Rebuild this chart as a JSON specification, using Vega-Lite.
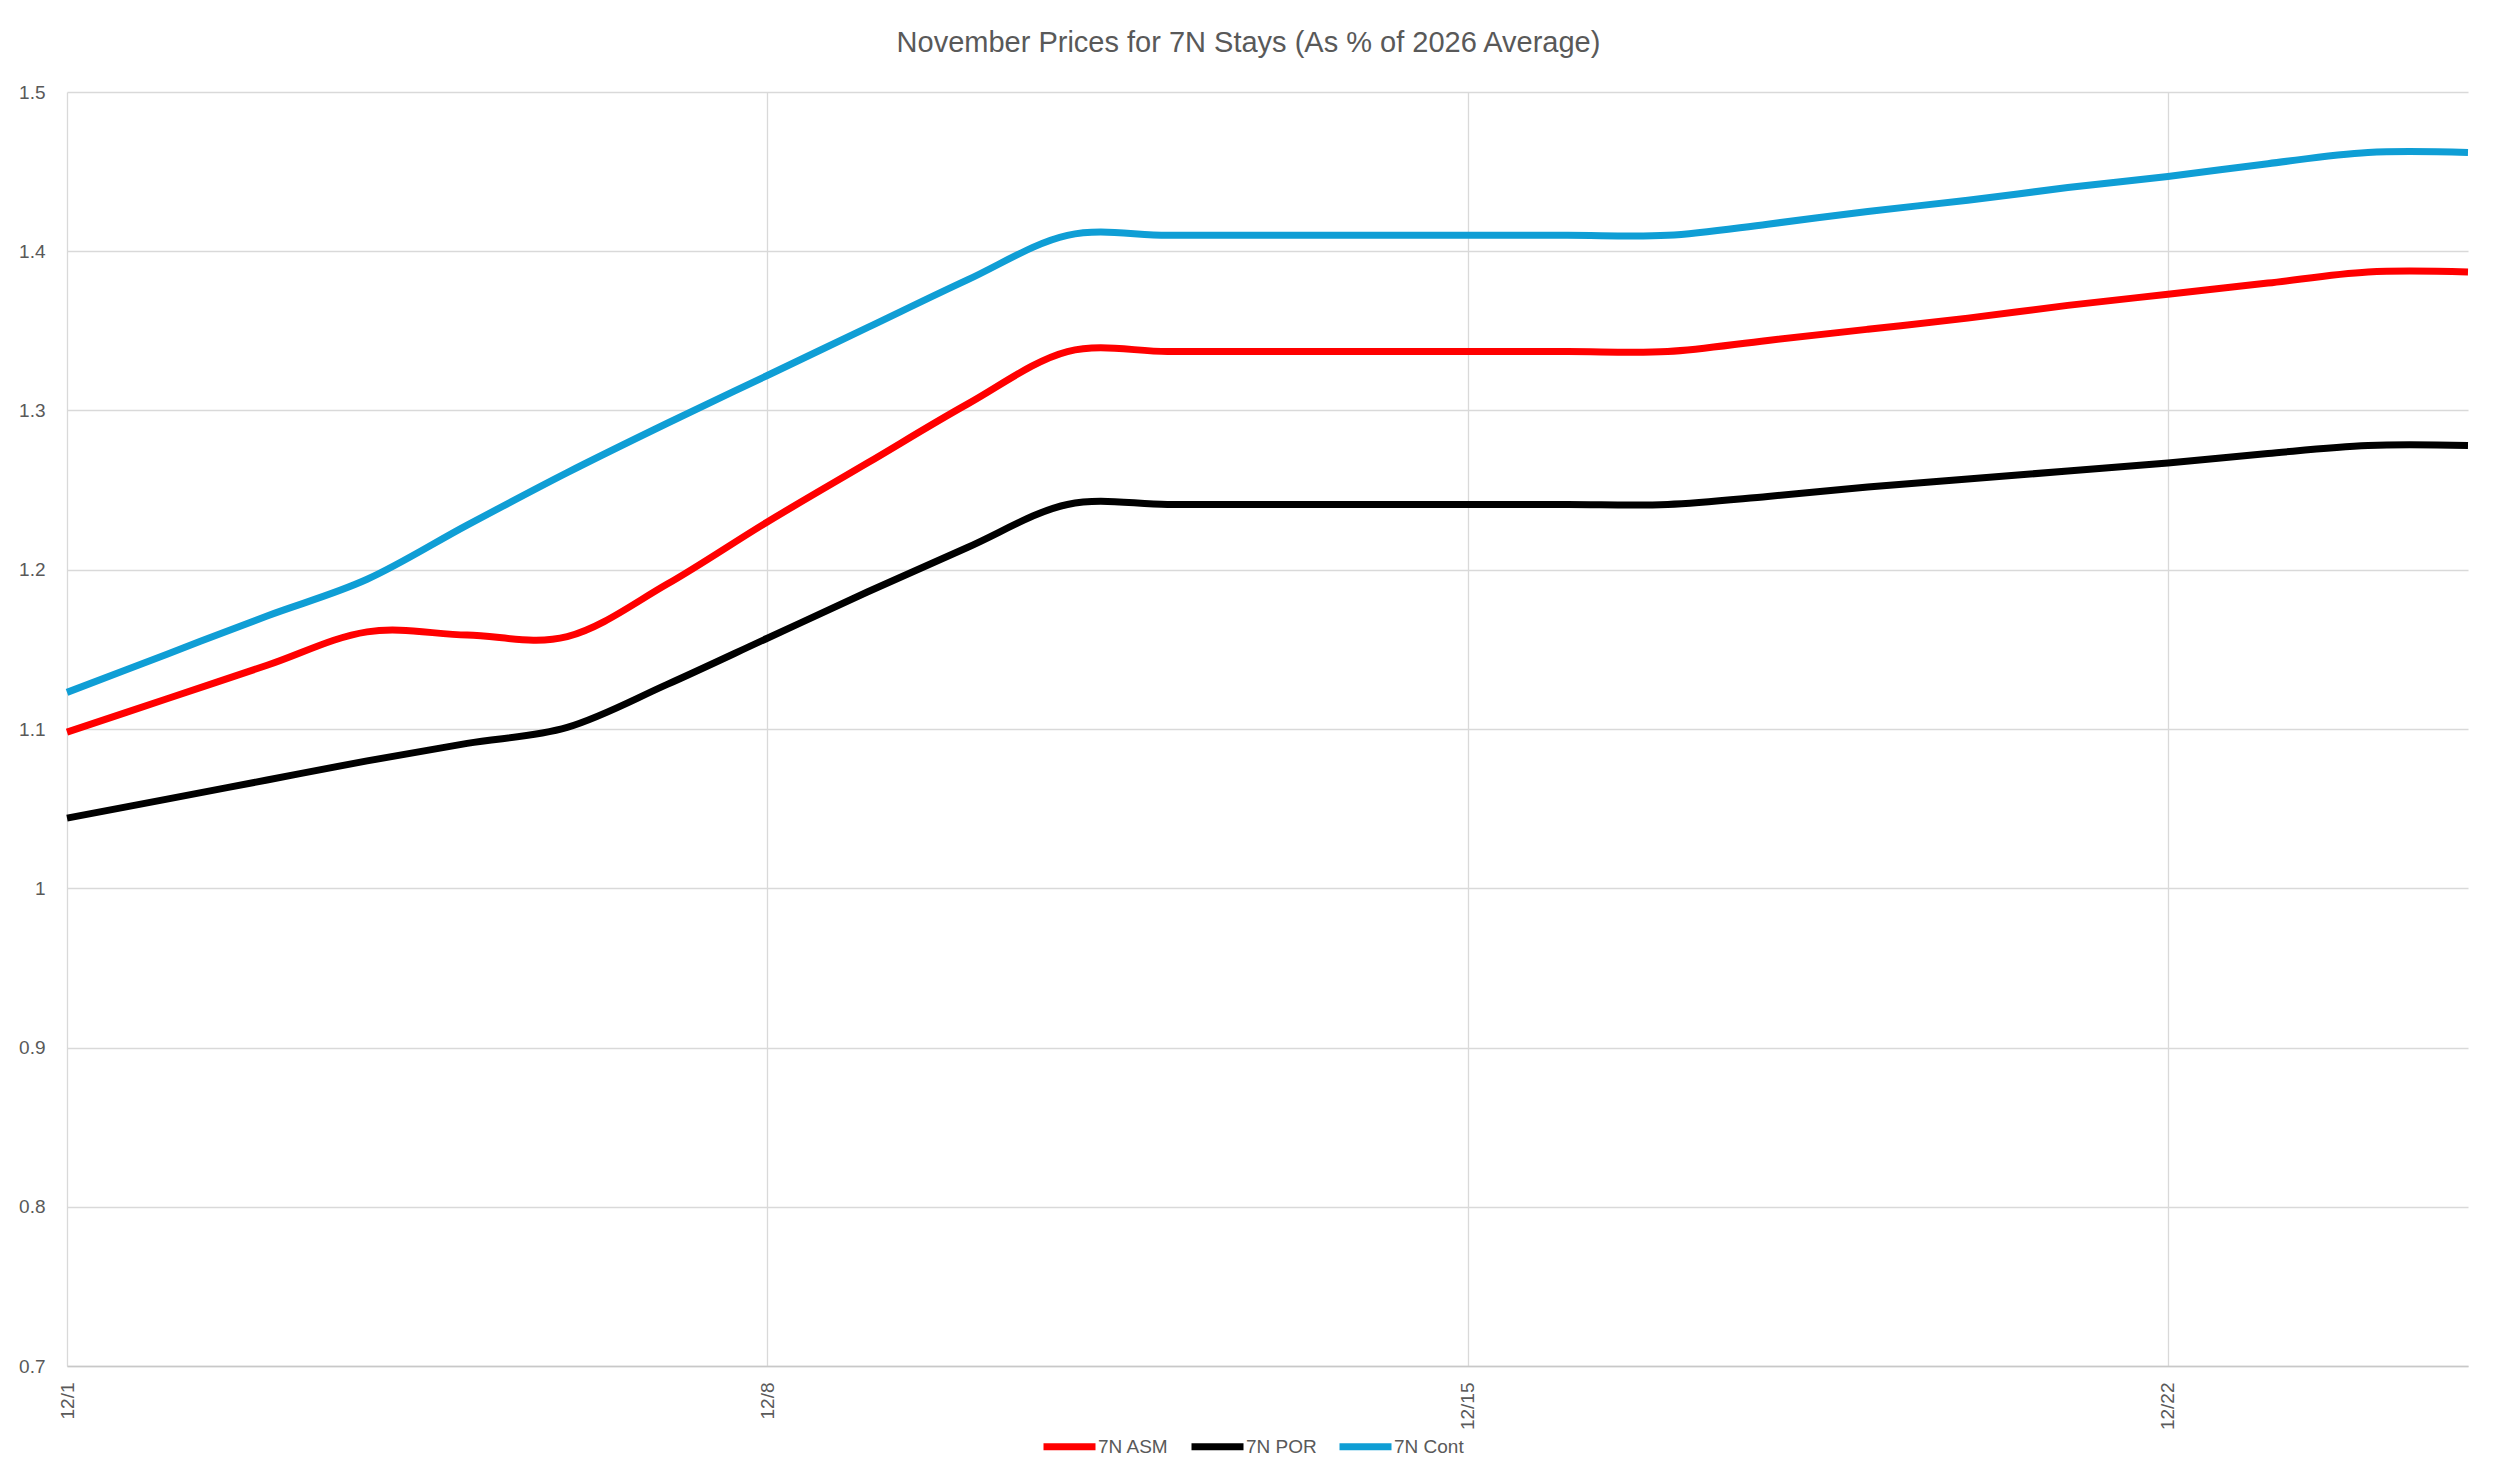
{
  "$schema": "https://vega.github.io/schema/vega-lite/v6.json",
  "autosize": {"type": "none"},
  "padding": {"left": 67, "top": 92, "right": 32, "bottom": 118},
  "width": 2401,
  "height": 1274,
  "background": "white",
  "title": {
    "text": "November Prices for 7N Stays (As % of 2026 Average)",
    "font": "Liberation Sans",
    "fontSize": 29,
    "fontWeight": "normal",
    "color": "#595959",
    "anchor": "middle",
    "frame": "group",
    "dx": -19,
    "offset": 25
  },
  "data": {
    "values": [
      {"date": "2025-12-01", "series": "7N ASM", "value": 1.098},
      {"date": "2025-12-02", "series": "7N ASM", "value": 1.119},
      {"date": "2025-12-03", "series": "7N ASM", "value": 1.140},
      {"date": "2025-12-04", "series": "7N ASM", "value": 1.161},
      {"date": "2025-12-05", "series": "7N ASM", "value": 1.159},
      {"date": "2025-12-06", "series": "7N ASM", "value": 1.158},
      {"date": "2025-12-07", "series": "7N ASM", "value": 1.191},
      {"date": "2025-12-08", "series": "7N ASM", "value": 1.230},
      {"date": "2025-12-09", "series": "7N ASM", "value": 1.267},
      {"date": "2025-12-10", "series": "7N ASM", "value": 1.304},
      {"date": "2025-12-11", "series": "7N ASM", "value": 1.337},
      {"date": "2025-12-12", "series": "7N ASM", "value": 1.337},
      {"date": "2025-12-13", "series": "7N ASM", "value": 1.337},
      {"date": "2025-12-14", "series": "7N ASM", "value": 1.337},
      {"date": "2025-12-15", "series": "7N ASM", "value": 1.337},
      {"date": "2025-12-16", "series": "7N ASM", "value": 1.337},
      {"date": "2025-12-17", "series": "7N ASM", "value": 1.337},
      {"date": "2025-12-18", "series": "7N ASM", "value": 1.344},
      {"date": "2025-12-19", "series": "7N ASM", "value": 1.351},
      {"date": "2025-12-20", "series": "7N ASM", "value": 1.358},
      {"date": "2025-12-21", "series": "7N ASM", "value": 1.366},
      {"date": "2025-12-22", "series": "7N ASM", "value": 1.373},
      {"date": "2025-12-23", "series": "7N ASM", "value": 1.380},
      {"date": "2025-12-24", "series": "7N ASM", "value": 1.387},
      {"date": "2025-12-25", "series": "7N ASM", "value": 1.387},
      {"date": "2025-12-01", "series": "7N POR", "value": 1.044},
      {"date": "2025-12-02", "series": "7N POR", "value": 1.056},
      {"date": "2025-12-03", "series": "7N POR", "value": 1.068},
      {"date": "2025-12-04", "series": "7N POR", "value": 1.080},
      {"date": "2025-12-05", "series": "7N POR", "value": 1.091},
      {"date": "2025-12-06", "series": "7N POR", "value": 1.101},
      {"date": "2025-12-07", "series": "7N POR", "value": 1.128},
      {"date": "2025-12-08", "series": "7N POR", "value": 1.157},
      {"date": "2025-12-09", "series": "7N POR", "value": 1.186},
      {"date": "2025-12-10", "series": "7N POR", "value": 1.214},
      {"date": "2025-12-11", "series": "7N POR", "value": 1.241},
      {"date": "2025-12-12", "series": "7N POR", "value": 1.241},
      {"date": "2025-12-13", "series": "7N POR", "value": 1.241},
      {"date": "2025-12-14", "series": "7N POR", "value": 1.241},
      {"date": "2025-12-15", "series": "7N POR", "value": 1.241},
      {"date": "2025-12-16", "series": "7N POR", "value": 1.241},
      {"date": "2025-12-17", "series": "7N POR", "value": 1.241},
      {"date": "2025-12-18", "series": "7N POR", "value": 1.246},
      {"date": "2025-12-19", "series": "7N POR", "value": 1.252},
      {"date": "2025-12-20", "series": "7N POR", "value": 1.257},
      {"date": "2025-12-21", "series": "7N POR", "value": 1.262},
      {"date": "2025-12-22", "series": "7N POR", "value": 1.267},
      {"date": "2025-12-23", "series": "7N POR", "value": 1.273},
      {"date": "2025-12-24", "series": "7N POR", "value": 1.278},
      {"date": "2025-12-25", "series": "7N POR", "value": 1.278},
      {"date": "2025-12-01", "series": "7N Cont", "value": 1.123},
      {"date": "2025-12-02", "series": "7N Cont", "value": 1.147},
      {"date": "2025-12-03", "series": "7N Cont", "value": 1.171},
      {"date": "2025-12-04", "series": "7N Cont", "value": 1.194},
      {"date": "2025-12-05", "series": "7N Cont", "value": 1.228},
      {"date": "2025-12-06", "series": "7N Cont", "value": 1.261},
      {"date": "2025-12-07", "series": "7N Cont", "value": 1.292},
      {"date": "2025-12-08", "series": "7N Cont", "value": 1.322},
      {"date": "2025-12-09", "series": "7N Cont", "value": 1.352},
      {"date": "2025-12-10", "series": "7N Cont", "value": 1.382},
      {"date": "2025-12-11", "series": "7N Cont", "value": 1.410},
      {"date": "2025-12-12", "series": "7N Cont", "value": 1.410},
      {"date": "2025-12-13", "series": "7N Cont", "value": 1.410},
      {"date": "2025-12-14", "series": "7N Cont", "value": 1.410},
      {"date": "2025-12-15", "series": "7N Cont", "value": 1.410},
      {"date": "2025-12-16", "series": "7N Cont", "value": 1.410},
      {"date": "2025-12-17", "series": "7N Cont", "value": 1.410},
      {"date": "2025-12-18", "series": "7N Cont", "value": 1.417},
      {"date": "2025-12-19", "series": "7N Cont", "value": 1.425},
      {"date": "2025-12-20", "series": "7N Cont", "value": 1.432},
      {"date": "2025-12-21", "series": "7N Cont", "value": 1.440},
      {"date": "2025-12-22", "series": "7N Cont", "value": 1.447},
      {"date": "2025-12-23", "series": "7N Cont", "value": 1.455},
      {"date": "2025-12-24", "series": "7N Cont", "value": 1.462},
      {"date": "2025-12-25", "series": "7N Cont", "value": 1.462}
    ],
    "format": {"parse": {"date": "date:'%Y-%m-%d'"}}
  },
  "mark": {"type": "line", "interpolate": "cardinal", "strokeWidth": 7, "strokeCap": "butt", "strokeJoin": "round"},
  "encoding": {
    "x": {
      "field": "date",
      "type": "temporal",
      "scale": {"domain": [{"year": 2025, "month": 12, "date": 1}, {"year": 2025, "month": 12, "date": 25}], "nice": false},
      "axis": {
        "title": null,
        "values": [{"year": 2025, "month": 12, "date": 1}, {"year": 2025, "month": 12, "date": 8}, {"year": 2025, "month": 12, "date": 15}, {"year": 2025, "month": 12, "date": 22}],
        "format": "%-m/%-d",
        "labelAngle": 270,
        "labelAlign": "right",
        "labelBaseline": "middle",
        "labelPadding": 16,
        "labelFont": "Liberation Sans",
        "labelFontSize": 19,
        "labelColor": "#595959",
        "ticks": false,
        "tickSize": 0,
        "grid": true,
        "gridColor": "#D9D9D9",
        "gridWidth": 1.3,
        "domain": true,
        "domainColor": "#C8C8C8",
        "domainWidth": 1.6
      }
    },
    "y": {
      "field": "value",
      "type": "quantitative",
      "scale": {"domain": [0.7, 1.5], "nice": false, "zero": false},
      "axis": {
        "title": null,
        "values": [0.7, 0.8, 0.9, 1, 1.1, 1.2, 1.3, 1.4, 1.5],
        "format": "~g",
        "labelPadding": 22,
        "labelFont": "Liberation Sans",
        "labelFontSize": 19,
        "labelColor": "#595959",
        "ticks": false,
        "tickSize": 0,
        "grid": true,
        "gridColor": "#D9D9D9",
        "gridWidth": 1.3,
        "domain": false
      }
    },
    "color": {
      "field": "series",
      "type": "nominal",
      "sort": ["7N ASM", "7N POR", "7N Cont"],
      "scale": {"domain": ["7N ASM", "7N POR", "7N Cont"], "range": ["#FF0000", "#000000", "#0F9ED5"]},
      "legend": {
        "title": null,
        "orient": "none",
        "direction": "horizontal",
        "legendX": 973,
        "legendY": 1325,
        "padding": 0,
        "symbolType": "stroke",
        "symbolSize": 2704,
        "symbolStrokeWidth": 7,
        "labelFont": "Liberation Sans",
        "labelFontSize": 19,
        "labelColor": "#595959",
        "labelOffset": -1,
        "columnPadding": 8
      }
    }
  },
  "config": {
    "view": {"stroke": null}
  }
}
